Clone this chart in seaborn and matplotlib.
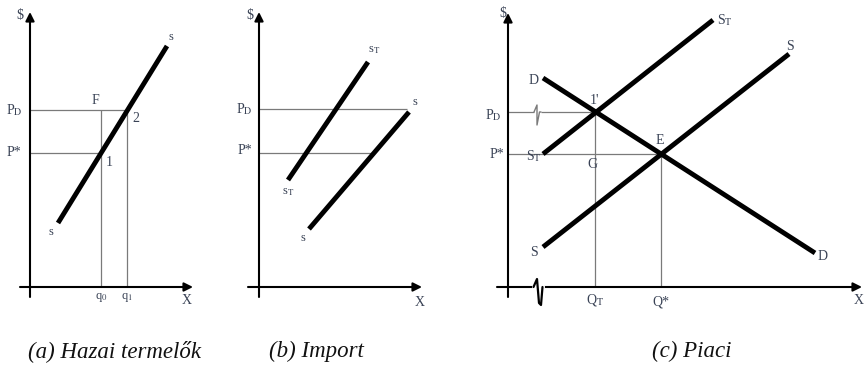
import numpy as np
import pandas as pd
import matplotlib
matplotlib.use("Agg")
import matplotlib.pyplot as plt
import seaborn as sns

sns.set_theme(style="white")
plt.rcParams["font.family"] = ["Liberation Serif", "DejaVu Serif"]
plt.rcParams["mathtext.fontset"] = "stix"

# ---------------- data (economic units) ----------------
# Panel (a) domestic producers
a_supply_x = [2.8, 13.7]
a_supply_y = [6.4, 24.1]
a_PD, a_Pstar = 17.7, 13.4
a_q0, a_q1 = 7.1, 9.7

# Panel (b) import
b_sT_x = [2.9, 10.9]
b_sT_y = [10.7, 22.5]
b_s_x = [5.0, 15.0]
b_s_y = [5.8, 17.5]
b_PD, b_Pstar = 17.8, 13.4
b_PD_end, b_Pstar_end = 14.8, 11.4

# Panel (c) market
c_D_x = [3.5, 30.7]
c_D_y = [20.9, 3.4]
c_ST_x = [3.5, 20.5]
c_ST_y = [13.3, 26.7]
c_S_x = [3.5, 28.1]
c_S_y = [4.0, 23.3]
c_PD, c_Pstar = 17.5, 13.3
c_QT, c_Qstar = 8.7, 15.3

captions = ["(a) Hazai termelők", "(b) Import", "(c) Piaci"]

W, H = 864, 365
fig = plt.figure(figsize=(W / 100, H / 100), dpi=100)
fig.patch.set_facecolor("white")

LAB = "#3a4356"
GUIDE = "#7a7a7a"
THICK = 3.5


def make_ax(ox, oy, x0, x1, y0, y1):
    ax = fig.add_axes([x0 / W, (H - y1) / H, (x1 - x0) / W, (y1 - y0) / H])
    ax.set_xlim((x0 - ox) / 10, (x1 - ox) / 10)
    ax.set_ylim((oy - y1) / 10, (oy - y0) / 10)
    ax.axis("off")
    return ax


def axes_arrows(ax, xmin, xmax, ymin, ymax):
    ap = dict(arrowstyle="-|>", lw=1.5, color="black", mutation_scale=13,
              shrinkA=0, shrinkB=0)
    ax.annotate("", xy=(xmax, 0), xytext=(xmin, 0), arrowprops=ap)
    ax.annotate("", xy=(0, ymax), xytext=(0, ymin), arrowprops=ap)


def thick(ax, xs, ys):
    df = pd.DataFrame({"x": xs, "y": ys})
    sns.lineplot(data=df, x="x", y="y", ax=ax, color="black", lw=THICK,
                 solid_capstyle="butt", sort=False)
    ax.axis("off")


def lab(ax, x, y, s, size=10, color=LAB, ha="center", va="center", **kw):
    ax.text(x, y, s, fontsize=size, color=color, ha=ha, va=va, **kw)


# ---------------- panel (a) ----------------
axa = make_ax(30, 287, 0, 215, 0, 315)
axes_arrows(axa, -1.0, 16.3, -1.0, 27.5)
axa.hlines(a_PD, 0, a_q1, color=GUIDE, lw=0.9)
axa.hlines(a_Pstar, 0, a_q0, color=GUIDE, lw=0.9)
axa.vlines(a_q0, 0, a_PD, color=GUIDE, lw=0.9)
axa.vlines(a_q1, 0, a_PD, color=GUIDE, lw=0.9)
thick(axa, a_supply_x, a_supply_y)
lab(axa, -1.0, 27.1, r"\$", size=10)
lab(axa, -1.6, a_PD, r"P$_{\mathrm{D}}$", size=10)
lab(axa, -1.6, a_Pstar, r"P*", size=10)
lab(axa, 6.5, 18.7, "F", size=10)
lab(axa, 10.6, 16.9, "2", size=10)
lab(axa, 7.9, 12.5, "1", size=10)
lab(axa, 14.1, 25.0, "s", size=9)
lab(axa, 2.1, 5.5, "s", size=9)
lab(axa, a_q0, -1.0, r"q$_0$", size=9)
lab(axa, a_q1, -1.0, r"q$_1$", size=9)
lab(axa, 15.7, -1.3, "X", size=10)

# ---------------- panel (b) ----------------
axb = make_ax(259, 287, 220, 440, 0, 315)
axes_arrows(axb, -1.1, 16.3, -1.0, 27.5)
axb.hlines(b_PD, 0, b_PD_end, color=GUIDE, lw=0.9)
axb.hlines(b_Pstar, 0, b_Pstar_end, color=GUIDE, lw=0.9)
thick(axb, b_sT_x, b_sT_y)
thick(axb, b_s_x, b_s_y)
lab(axb, -0.9, 27.2, r"\$", size=10)
lab(axb, -1.5, b_PD, r"P$_{\mathrm{D}}$", size=10)
lab(axb, -1.4, b_Pstar + 0.2, r"P*", size=10)
lab(axb, 11.5, 23.7, r"s$_{\mathrm{T}}$", size=9)
lab(axb, 2.9, 9.5, r"s$_{\mathrm{T}}$", size=9)
lab(axb, 15.6, 18.5, "s", size=9)
lab(axb, 4.4, 4.9, "s", size=9)
lab(axb, 16.1, -1.5, "X", size=10)

# ---------------- panel (c) ----------------
axc = make_ax(508, 287, 470, 864, 0, 315)
axes_arrows(axc, -1.1, 35.4, -1.0, 27.4)
axc.hlines(c_PD, 0, 2.6, color=GUIDE, lw=0.9)
axc.hlines(c_PD, 3.3, c_QT, color=GUIDE, lw=0.9)
brk_x = [2.6, 2.9, 2.9, 3.15, 3.3]
brk_y = [17.5, 18.2, 16.2, 17.5, 17.5]
axc.plot(brk_x, brk_y, color=GUIDE, lw=1.0)
axc.hlines(c_Pstar, 0, c_Qstar, color=GUIDE, lw=0.9)
axc.vlines(c_QT, 0, c_PD, color=GUIDE, lw=0.9)
axc.vlines(c_Qstar, 0, c_Pstar, color=GUIDE, lw=0.9)
# axis break on quantity axis
axc.plot([2.55, 3.45], [0.0, 0.0], color="white", lw=3, zorder=3)
axc.plot([2.55, 2.9, 3.1, 3.3, 3.45],
         [0.0, 0.8, -1.6, -1.8, 0.0], color="black", lw=1.6, zorder=4)
thick(axc, c_D_x, c_D_y)
thick(axc, c_ST_x, c_ST_y)
thick(axc, c_S_x, c_S_y)
lab(axc, -0.5, 27.4, r"\$", size=10)
lab(axc, -1.5, c_PD - 0.3, r"P$_{\mathrm{D}}$", size=10)
lab(axc, -1.1, c_Pstar, r"P*", size=10)
lab(axc, 2.6, 20.7, "D", size=10)
lab(axc, 31.5, 3.0, "D", size=10)
lab(axc, 21.7, 26.7, r"S$_{\mathrm{T}}$", size=10)
lab(axc, 2.6, 13.1, r"S$_{\mathrm{T}}$", size=10)
lab(axc, 28.2, 24.0, "S", size=10)
lab(axc, 2.6, 3.5, "S", size=10)
lab(axc, 8.6, 18.7, "1'", size=10)
lab(axc, 15.2, 14.7, "E", size=10)
lab(axc, 8.4, 12.2, "G", size=10)
lab(axc, c_QT, -1.3, r"Q$_{\mathrm{T}}$", size=10)
lab(axc, c_Qstar, -1.5, r"Q*", size=10)
lab(axc, 35.1, -1.3, "X", size=10)

# ---------------- captions ----------------
cap_x = [115, 316, 692]
for cx, c in zip(cap_x, captions):
    fig.text(cx / W, 1 - 351 / H, c, fontsize=16.5, style="italic",
             ha="center", va="center", color="#111111",
             family=["Liberation Serif", "DejaVu Serif"])

fig.savefig("out.png", dpi=100, facecolor="white")
